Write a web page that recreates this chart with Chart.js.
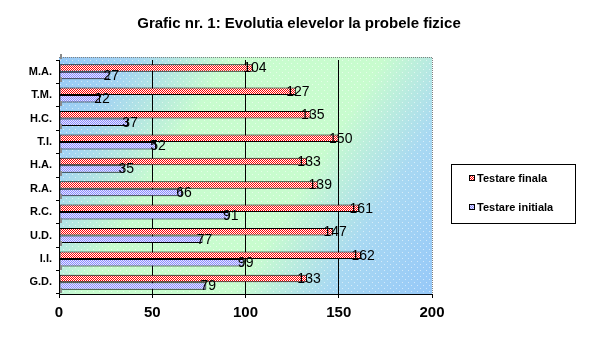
<!DOCTYPE html>
<html>
<head>
<meta charset="utf-8">
<script src="https://cdn.jsdelivr.net/npm/chart.js@4/dist/chart.umd.min.js"></script>
<style>
html,body{margin:0;padding:0;background:#fff;}
#wrap{width:598px;height:343px;position:relative;}
</style>
</head>
<body>
<div id="wrap"><canvas id="c" width="598" height="343"></canvas></div>
<script>
const categories = ['M.A.', 'T.M.', 'H.C.', 'T.I.', 'H.A.', 'R.A.', 'R.C.', 'U.D.', 'I.I.', 'G.D.'];
const finalValues = [104, 127, 135, 150, 133, 139, 161, 147, 162, 133];
const initialValues = [27, 22, 37, 52, 35, 66, 91, 77, 99, 79];
const seriesNames = ['Testare finala', 'Testare initiala'];
const xTicks = [0, 50, 100, 150, 200];
const titleText = 'Grafic nr. 1: Evolutia elevelor la probele fizice';

const FONT = '"Liberation Sans", Arial, sans-serif';

function checker(c1, c2) {
  const p = document.createElement('canvas');
  p.width = 2; p.height = 2;
  const g = p.getContext('2d');
  g.fillStyle = c2; g.fillRect(0, 0, 2, 2);
  g.fillStyle = c1; g.fillRect(0, 0, 1, 1); g.fillRect(1, 1, 1, 1);
  return g.createPattern(p, 'repeat');
}
const redPat = checker('#ff0000', '#ffffff');
const bluePat = checker('#8c8cff', '#e6e6ff');

function dots() {
  const p = document.createElement('canvas');
  p.width = 6; p.height = 6;
  const g = p.getContext('2d');
  g.fillStyle = 'rgba(255,255,255,0.55)';
  g.fillRect(0, 0, 1, 1);
  g.fillRect(3, 3, 1, 1);
  return g.createPattern(p, 'repeat');
}
const dotPat = dots();

const bgPlugin = {
  id: 'bg',
  beforeDraw(chart) {
    const {ctx, chartArea: a} = chart;
    const top = a.top - 3;
    ctx.save();
    const gr = ctx.createLinearGradient(a.left, top, a.right, a.bottom);
    gr.addColorStop(0, '#96c8f6');
    gr.addColorStop(0.14, '#a4d4f2');
    gr.addColorStop(0.33, '#c8fcce');
    gr.addColorStop(0.62, '#c8fcce');
    gr.addColorStop(0.8, '#a8d8f2');
    gr.addColorStop(1, '#96c8f8');
    ctx.fillStyle = gr;
    ctx.fillRect(a.left, top, a.right - a.left, a.bottom - top);
    ctx.fillStyle = dotPat;
    ctx.fillRect(a.left, top, a.right - a.left, a.bottom - top);
    ctx.strokeStyle = '#808080';
    ctx.lineWidth = 1;
    ctx.setLineDash([1, 1]);
    ctx.beginPath();
    ctx.moveTo(a.left, top + 0.5);
    ctx.lineTo(a.right + 0.5, top + 0.5);
    ctx.lineTo(a.right + 0.5, a.bottom);
    ctx.stroke();
    ctx.restore();
  },
  afterDraw(chart) {
    // small grey stubs along the category axis at each band boundary
    const {ctx, chartArea: a, scales} = chart;
    const y = scales.y;
    const n = chart.data.labels.length;
    const band = (a.bottom - a.top) / n;
    ctx.save();
    ctx.fillStyle = '#8a8a8a';
    for (let i = 0; i <= n; i++) {
      const yb = a.top + i * band;
      ctx.fillRect(a.left + 1, Math.round(yb) - 6, 2, 5);
    }
    ctx.restore();
  }
};

const labelPlugin = {
  id: 'vals',
  afterDatasetsDraw(chart) {
    const ctx = chart.ctx;
    ctx.save();
    ctx.font = '14px ' + FONT;
    ctx.fillStyle = '#000';
    ctx.textAlign = 'center';
    ctx.textBaseline = 'middle';
    chart.data.datasets.forEach((ds, i) => {
      const meta = chart.getDatasetMeta(i);
      meta.data.forEach((el, j) => {
        ctx.fillText(String(ds.data[j]), el.x + 2, el.y + 0.5);
      });
    });
    ctx.restore();
  }
};

const titlePlugin = {
  id: 'ttl',
  afterDraw(chart) {
    const ctx = chart.ctx;
    ctx.save();
    ctx.font = 'bold 15px ' + FONT;
    ctx.fillStyle = '#000';
    ctx.textAlign = 'center';
    ctx.textBaseline = 'middle';
    ctx.fillText(titleText, 299, 24);
    ctx.restore();
  }
};

const legendPlugin = {
  id: 'customLegend',
  afterDraw(chart) {
    const ctx = chart.ctx;
    ctx.save();
    const x = 451.5, y = 164.5, w = 124, h = 59;
    ctx.fillStyle = '#fff';
    ctx.fillRect(x, y, w, h);
    ctx.strokeStyle = '#000';
    ctx.lineWidth = 1;
    ctx.strokeRect(x, y, w, h);
    ctx.font = 'bold 11px ' + FONT;
    ctx.textBaseline = 'middle';
    ctx.textAlign = 'left';
    chart.data.datasets.forEach((ds, i) => {
      const cy = 178 + i * 29;
      ctx.fillStyle = ds.backgroundColor;
      ctx.fillRect(469, cy - 3, 6, 6);
      ctx.strokeStyle = '#000';
      ctx.strokeRect(469.5, cy - 2.5, 5, 5);
      ctx.fillStyle = '#000';
      ctx.fillText(ds.label, 477, cy + 0.5);
    });
    ctx.restore();
  }
};

new Chart(document.getElementById('c'), {
  type: 'bar',
  data: {
    labels: categories,
    datasets: [
      {label: seriesNames[0], data: finalValues, backgroundColor: redPat, borderColor: '#000', borderWidth: 1, borderSkipped: false},
      {label: seriesNames[1], data: initialValues, backgroundColor: bluePat, borderColor: '#000', borderWidth: 1, borderSkipped: false}
    ]
  },
  options: {
    indexAxis: 'y',
    responsive: false,
    animation: false,
    devicePixelRatio: 1,
    categoryPercentage: 0.64,
    barPercentage: 1,
    layout: {padding: {left: 0, right: 166, top: 60, bottom: 0}},
    plugins: {
      legend: {display: false},
      tooltip: {enabled: false},
      title: {display: false}
    },
    scales: {
      x: {
        min: 0, max: 200,
        afterBuildTicks(scale) { scale.ticks = xTicks.map(v => ({value: v})); },
        afterFit(scale) { scale.height = 49; },
        border: {display: true, color: '#000', width: 1},
        grid: {
          drawOnChartArea: true,
          tickLength: 4,
          tickColor: '#000',
          color: ctx => (ctx.tick && ctx.tick.value > 0 && ctx.tick.value < 200) ? '#000' : 'rgba(0,0,0,0)'
        },
        ticks: {
          color: '#000',
          padding: 6,
          font: {family: FONT, size: 15, weight: 'bold'},
          maxRotation: 0
        }
      },
      y: {
        afterFit(scale) { scale.width = 59; },
        border: {display: true, color: '#000', width: 1},
        grid: {offset: true, drawOnChartArea: false, tickLength: 3, tickColor: '#000'},
        ticks: {
          color: '#000',
          padding: 4,
          font: {family: FONT, size: 11, weight: 'bold'}
        }
      }
    }
  },
  plugins: [bgPlugin, labelPlugin, titlePlugin, legendPlugin]
});
</script>
</body>
</html>
